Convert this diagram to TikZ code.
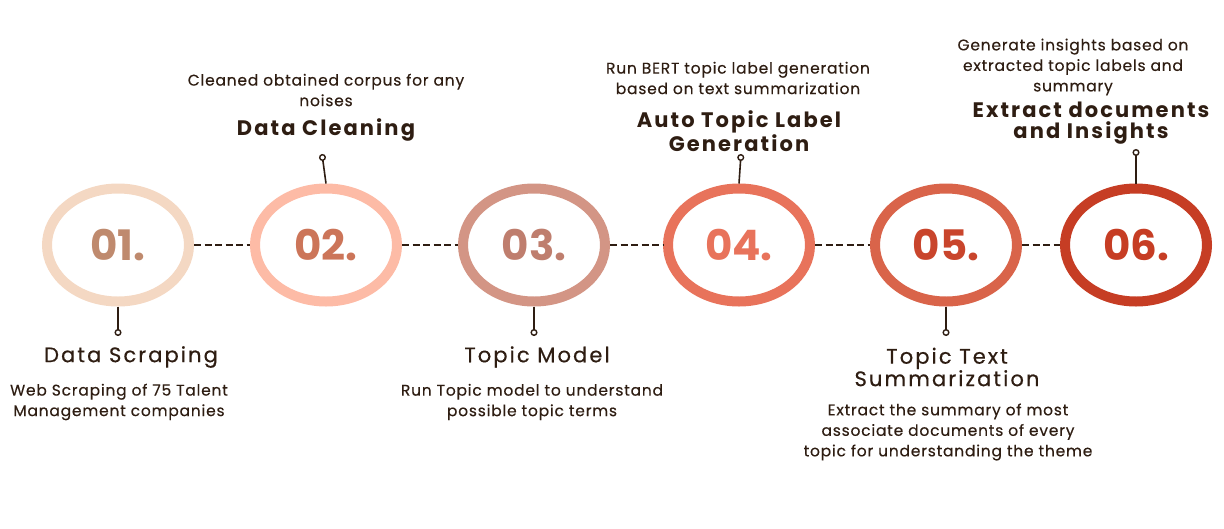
\documentclass[tikz,border=0pt]{standalone}
\usepackage{fontspec}
\setmainfont{Poppins}
\newfontfamily\spacedfont[LetterSpace=10,FakeBold=0.5]{Poppins}
\newfontfamily\spacedbold[LetterSpace=10,UprightFont={* Bold}]{Poppins}
\newfontfamily\descfont[LetterSpace=5,FakeBold=0.3]{Poppins}
\usepackage{tikz}
\usetikzlibrary{positioning,arrows.meta,shapes.geometric}
\usepackage{xcolor}
\definecolor{textdark}{HTML}{2E1D12}
\definecolor{ringA}{HTML}{F4D8C3}
\definecolor{numA}{HTML}{BF8A6E}
\definecolor{ringB}{HTML}{FDBBA6}
\definecolor{numB}{HTML}{CC7559}
\definecolor{ringC}{HTML}{D39585}
\definecolor{numC}{HTML}{BF7E6E}
\definecolor{ringD}{HTML}{E8735B}
\definecolor{numD}{HTML}{E8735B}
\definecolor{ringE}{HTML}{D9644A}
\definecolor{numE}{HTML}{C9452C}
\definecolor{ringF}{HTML}{C63D24}
\definecolor{numF}{HTML}{C63D24}
\tikzset{
  ring/.style={ellipse,draw,line width=10pt,minimum width=142pt,minimum height=113pt,
    inner sep=0pt,font=\fontsize{42}{44}\selectfont\bfseries},
  link/.style={textdark,dashed,dash pattern=on 7pt off 3.5pt,line width=1.8pt},
  stem/.style={textdark,line width=1.6pt,-{Circle[open,length=7pt,width=7pt,line width=1.4pt]}},
  title/.style={textdark,align=center,font=\spacedfont\fontsize{21}{21}\selectfont},
  boldtitle/.style={textdark,align=center,font=\spacedbold\fontsize{21}{21}\selectfont},
  desc/.style={textdark,align=center,font=\descfont\fontsize{15.5}{20.5}\selectfont}
}

\begin{document}
\begin{tikzpicture}[x=1pt,y=-1pt]
        \useasboundingbox(0,0)rectangle(1224,528);
        % steps
        \node[ring,draw=ringA,text=numA](c1)at(118,245){01.};
        \node[ring,draw=ringB,text=numB](c2)at(326,245){02.};
        \node[ring,draw=ringC,text=numC](c3)at(534,245){03.};
        \node[ring,draw=ringD,text=numD](c4)at(739,245){04.};
        \node[ring,draw=ringE,text=numE](c5)at(946,245){05.};
        \node[ring,draw=ringF,text=numF](c6)at(1136,245){06.};
        \draw[link](c1.east)--(c2.west);
        \draw[link](c2.east)--(c3.west);
        \draw[link](c3.east)--(c4.west);
        \draw[link](c4.east)--(c5.west);
        \draw[link](c5.east)--(c6.west);
        % stems
        \coordinate(p1)at(118,336);
        \coordinate(p2)at(322,154);
        \coordinate(p3)at(534,336);
        \coordinate(p4)at(741,154);
        \coordinate(p5)at(946,336);
        \coordinate(p6)at(1136,149);
        \draw[stem](c1.south)--(p1);
        \draw[stem](c2.north)--(p2);
        \draw[stem](c3.south)--(p3);
        \draw[stem](c4.north)--(p4);
        \draw[stem](c5.south)--(p5);
        \draw[stem](c6.north)--(p6);
        % labels
        \node[title](t1)at(131,357){Data Scraping};
        \node[desc](d1)at(119,402){Web Scraping of 75 Talent\\Management companies};
        \node[desc](d2)at(326,90){Cleaned obtained corpus for any\\noises};
        \node[boldtitle](t2)at(326,130){Data Cleaning};
        \node[title](t3)at(537,357){Topic Model};
        \node[desc](d3)at(532,402){Run Topic model to understand\\possible topic terms};
        \node[desc](d4)at(738,78){Run BERT topic label generation\\based on text summarization};
        \node[boldtitle](t4)at(739,131){Auto Topic Label\\Generation};
        \node[title](t5)at(947,367){Topic Text\\Summarization};
        \node[desc](d5)at(948,432){Extract the summary of most\\associate documents of every\\topic for understanding the theme};
        \node[desc](d6)at(1073,67){Generate insights based on\\extracted topic labels and\\summary};
        \node[boldtitle](t6)at(1091,123){Extract documents\\and Insights};
      \end{tikzpicture}
\end{document}
